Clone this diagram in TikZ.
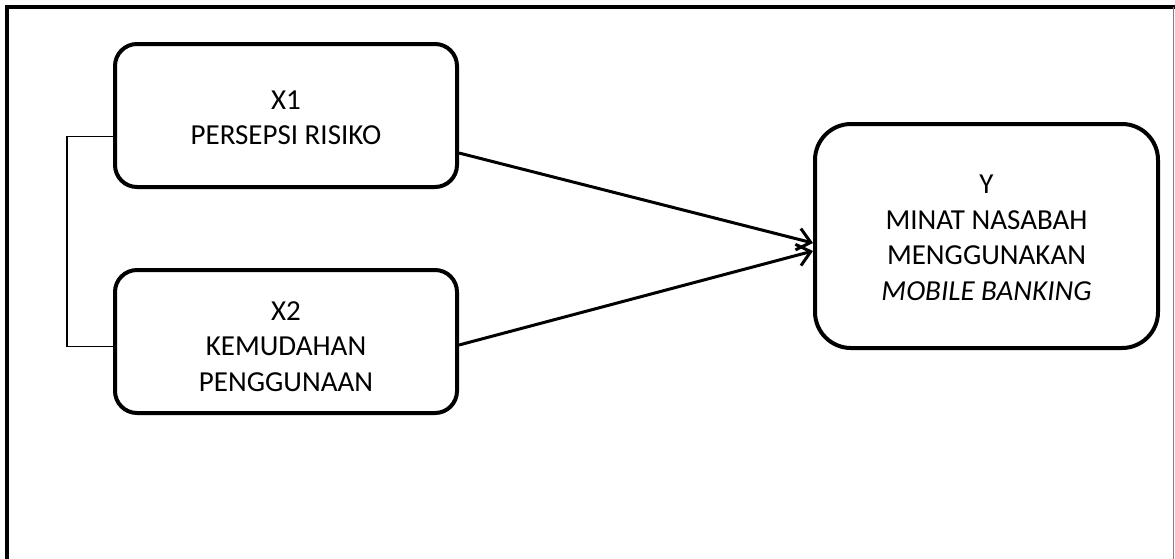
\documentclass[tikz,border=0pt]{standalone}
\usepackage{fontspec}
\setmainfont{Carlito}
\usetikzlibrary{arrows.meta,calc}
\tikzset{
  varbox/.style={draw=black, line width=4pt, rounded corners=22pt, fill=white,
    inner sep=0pt},
  label text/.style={align=center, font=\fontsize{29}{35.5}\selectfont},
  link/.style={draw=black, line width=1.5pt},
  path/.style={draw=black, line width=3pt, -{Straight Barb[length=13pt,width=22pt,line width=3pt]}},
}
\begin{document}
\begin{tikzpicture}[x=1pt,y=-1pt]
\useasboundingbox (0,0) rectangle (1175,558);
% page frame
\draw[line width=4pt] (7,560) -- (7,7) -- (1175,7);
\draw[gray, line width=1.5pt] (1173.5,7) -- (1173.5,560);

% variable boxes
\node[varbox, minimum width=342pt, minimum height=143pt] (x1) at (286,115.5) {};
\node[varbox, minimum width=342pt, minimum height=143pt] (x2) at (286,341.5) {};
\node[varbox, rounded corners=36pt, minimum width=343pt, minimum height=224pt] (y) at (986.5,236) {};

\node[label text] (x1t) at (286,118) {X1\\PERSEPSI RISIKO};
\node[label text] (x2t) at (286,346.5) {X2\\KEMUDAHAN\\PENGGUNAAN};
\node[label text] (yt) at (986.5,238) {Y\\MINAT NASABAH\\MENGGUNAKAN\\\textit{MOBILE BANKING}};

% correlation bracket between X1 and X2
\coordinate (b1) at ($(x1.west)+(0,21)$);
\coordinate (b2) at ($(x2.west)+(0,5)$);
\draw[link] (b1) -- ++(-46,0) |- (b2);

% paths to Y
\coordinate (s1) at ($(x1.east)+(0,37.5)$);
\coordinate (s2) at ($(x2.east)+(0,3.5)$);
\coordinate (e1) at ($(y.west)+(0,7)$);
\coordinate (e2) at ($(y.west)+(0,15)$);
\draw[path] (s1) -- (e1);
\draw[path] (s2) -- (e2);
\end{tikzpicture}
\end{document}
